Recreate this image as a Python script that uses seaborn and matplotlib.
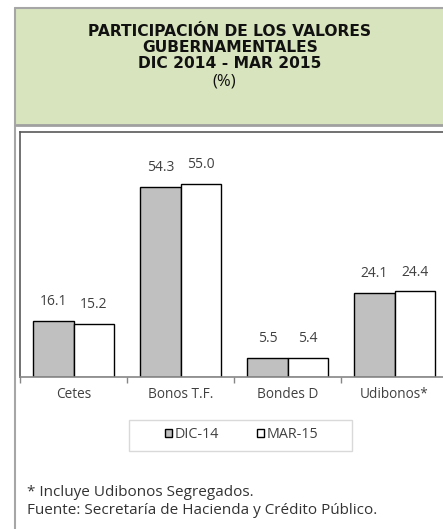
import matplotlib
matplotlib.use("Agg")
import matplotlib.pyplot as plt
from matplotlib.patches import Rectangle
from matplotlib.lines import Line2D
import seaborn as sns
import pandas as pd

categories = ["Cetes", "Bonos T.F.", "Bondes D", "Udibonos*"]
series_names = ["DIC-14", "MAR-15"]
dic14 = [16.1, 54.3, 5.5, 24.1]
mar15 = [15.2, 55.0, 5.4, 24.4]

title_lines = ["PARTICIPACIÓN DE LOS VALORES", "GUBERNAMENTALES", "DIC 2014 - MAR 2015"]
unit_line = "(%)"
notes = ["* Incluye Udibonos Segregados.",
         "Fuente: Secretaría de Hacienda y Crédito Público."]

df = pd.DataFrame({
    "categoria": categories * 2,
    "periodo": [series_names[0]] * 4 + [series_names[1]] * 4,
    "valor": dic14 + mar15,
})

sns.set_theme(style="white")
plt.rcParams["font.family"] = ["Open Sans", "DejaVu Sans"]

W, H = 443, 529
fig = plt.figure(figsize=(W / 100, H / 100), dpi=100)
fig.patch.set_facecolor("white")

def fx(px):
    return px / W

def fy(py):
    return 1 - py / H

# header panel
fig.patches.append(Rectangle((fx(15), fy(125)), fx(440), (125 - 8) / H,
                             transform=fig.transFigure, facecolor="#d7e4bd",
                             edgecolor="none", zorder=0))
fig.lines.append(Line2D([fx(15), fx(15)], [fy(7.5), 0], transform=fig.transFigure,
                        color="#a6a6a6", lw=1.5))
fig.lines.append(Line2D([fx(15), 1], [fy(7.5), fy(7.5)], transform=fig.transFigure,
                        color="#a6a6a6", lw=1.5))
fig.lines.append(Line2D([fx(16), 1], [fy(125), fy(125)], transform=fig.transFigure,
                        color="#a0a0a0", lw=2))

for i, line in enumerate(title_lines):
    fig.text(fx(230), fy(31 + i * 16.5), line, ha="center", va="center",
             fontsize=11.2, fontweight="bold", color="#111111", family="DejaVu Sans")
fig.text(fx(224), fy(82), unit_line, ha="center", va="center",
         fontsize=12, color="#111111")

# plot area
ax = fig.add_axes([fx(20), fy(377), 428 / W, (377 - 132) / H])
sns.barplot(data=df, x="categoria", y="valor", hue="periodo",
            palette=["#c0c0c0", "#ffffff"], edgecolor="black", linewidth=1,
            width=0.75, ax=ax, legend=False)
ax.set_ylim(0, 69.9)
ax.set_xlim(-0.5, 3.5)
ax.set_xlabel("")
ax.set_ylabel("")
ax.set_yticks([])
ax.set_xticks(range(4))
ax.set_xticklabels(categories, fontsize=9.8, color="#404040")
ax.set_xticks([-0.5, 0.5, 1.5, 2.5, 3.5], minor=True)
ax.tick_params(axis="x", which="major", length=0, pad=7)
ax.tick_params(axis="x", which="minor", length=4, width=1, color="#868686",
               direction="out", bottom=True)
for s in ["left", "top", "right"]:
    ax.spines[s].set_color("#595959")
    ax.spines[s].set_linewidth(1.2)
ax.spines["bottom"].set_color("#868686")
ax.spines["bottom"].set_linewidth(1.2)

for container in ax.containers:
    ax.bar_label(container, fmt="%.1f", padding=8.5, fontsize=10, color="#404040")

# legend with its own frame
fig.patches.append(Rectangle((fx(128.5), fy(450.5)), (351.5 - 128.5) / W, (450.5 - 420) / H,
                             transform=fig.transFigure, facecolor="white",
                             edgecolor="#d9d9d9", lw=1, zorder=1))
handles = [Rectangle((0, 0), 1, 1, facecolor="#c0c0c0", edgecolor="black", lw=1),
           Rectangle((0, 0), 1, 1, facecolor="white", edgecolor="black", lw=1)]
leg = fig.legend(handles, series_names, loc="center", bbox_to_anchor=(fx(242), fy(435)),
                 ncol=2, fontsize=10.3, frameon=False,
                 handlelength=0.48, handleheight=0.48, handletextpad=0.2,
                 columnspacing=2.65, borderpad=0, borderaxespad=0)
for t in leg.get_texts():
    t.set_color("#404040")

fig.text(fx(27), fy(493), notes[0], ha="left", va="center", fontsize=11, color="#333333")
fig.text(fx(27), fy(511), notes[1], ha="left", va="center", fontsize=11, color="#333333")

fig.savefig("out.png", dpi=100)
